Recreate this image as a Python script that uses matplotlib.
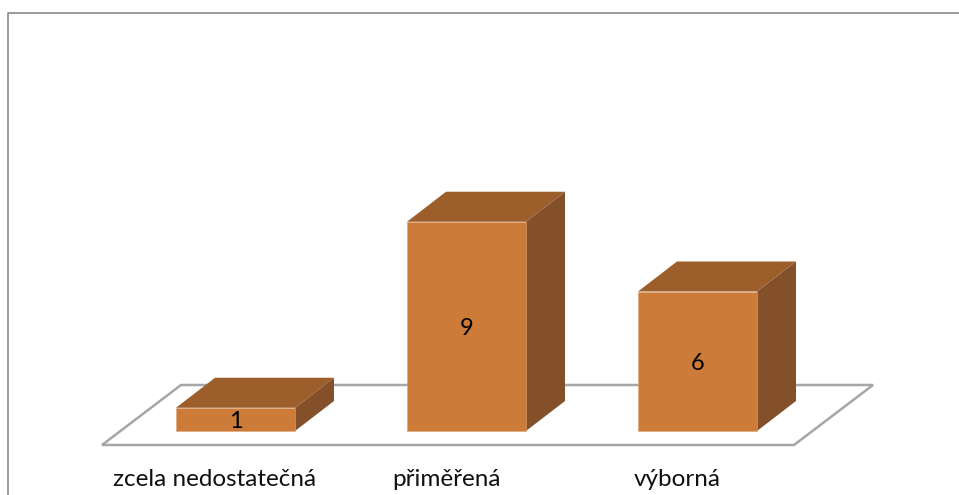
#!/usr/bin/python
import matplotlib
matplotlib.use("Agg")
from matplotlib import pyplot as plt
from matplotlib.patches import Polygon

categories = ["zcela nedostatečná", "přiměřená", "výborná"]
values = [1, 9, 6]

W, H = 959, 495
STEP = 231.0      # px between bars
UNIT = 23.25      # px per value
X0, Y0 = 235.5, 431  # px of first bar centre / baseline
BAR = 119 / STEP
DX = 39 / STEP
DY = 30 / UNIT

front = "#CC7B38"
top = "#9C5E2B"
side = "#84502A"
edge = "#DDA577"
line = "#A6A6A6"

plt.rcParams['font.family'] = ['Lato', 'DejaVu Sans']

fig = plt.figure(figsize=(W / 100, H / 100), dpi=100, facecolor="white")
ax = fig.add_axes([0, 0, 1, 1])
ax.set_xlim(-X0 / STEP, (W - X0) / STEP)
ax.set_ylim((Y0 - H) / UNIT, Y0 / UNIT)
ax.axis("off")

# floor of the 3d chart
floor_l = -133.5 / STEP
floor_r = 558.5 / STEP
floor_y = -14 / UNIT
floor_dx = 79 / STEP
floor_dy = 60 / UNIT
ax.add_patch(Polygon([(floor_l, floor_y), (floor_r, floor_y),
                      (floor_r + floor_dx, floor_y + floor_dy),
                      (floor_l + floor_dx, floor_y + floor_dy)],
                     closed=True, facecolor="white", edgecolor=line, lw=1.8, zorder=1))

for i, v in enumerate(values):
    l, r = i - BAR / 2, i + BAR / 2
    ax.add_patch(Polygon([(r, 0), (r + DX, DY), (r + DX, v + DY), (r, v)],
                         closed=True, facecolor=side, edgecolor="none", zorder=2))
    ax.add_patch(Polygon([(l, v), (r, v), (r + DX, v + DY), (l + DX, v + DY)],
                         closed=True, facecolor=top, edgecolor="none", zorder=2))
    ax.bar(i, v, width=BAR, color=front, edgecolor=edge, linewidth=0.4, zorder=3)
    ax.text(i, v / 2 - 2 / UNIT, str(v), ha="center", va="center", fontsize=17, color="black", zorder=4)
    ax.text(i - 20.5 / STEP, (Y0 - 480) / UNIT, categories[i], ha="center", va="center",
            fontsize=17.5, color="#111111", zorder=4)

# outer frame, only top and left show in the crop
fig.add_artist(plt.Line2D([8 / W, 8 / W, 1], [0, 1 - 12.5 / H, 1 - 12.5 / H],
                          color="#808080", lw=1.1))

fig.savefig("out.png", dpi=100)
